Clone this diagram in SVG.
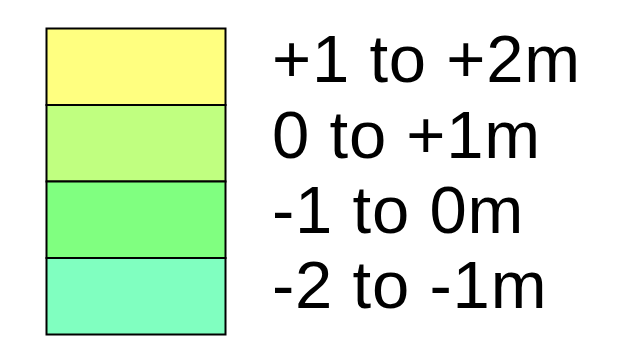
<svg xmlns="http://www.w3.org/2000/svg" width="630" height="338" viewBox="0 0 630 338">
<style>
.sw{stroke:#000;stroke-width:2}
.lb{font-family:"Liberation Sans",Arial,sans-serif;font-size:67px;letter-spacing:0.8px;fill:#000}
</style>
<rect width="630" height="338" fill="#fff"/>
<g id="item1"><rect class="sw" x="46.5" y="28.5" width="179" height="76.5" fill="#FFFF80"/><text class="lb" x="272" y="82">+1 to +2m</text></g>
<g id="item2"><rect class="sw" x="46.5" y="105" width="179" height="76.5" fill="#C0FF80"/><text class="lb" x="272" y="158">0 to +1m</text></g>
<g id="item3"><rect class="sw" x="46.5" y="181.5" width="179" height="76.5" fill="#80FF80"/><text class="lb" x="272" y="233">-1 to 0m</text></g>
<g id="item4"><rect class="sw" x="46.5" y="258" width="179" height="76.5" fill="#80FFC0"/><text class="lb" x="272" y="308">-2 to -1m</text></g>
<g id="connectors"/>
</svg>
